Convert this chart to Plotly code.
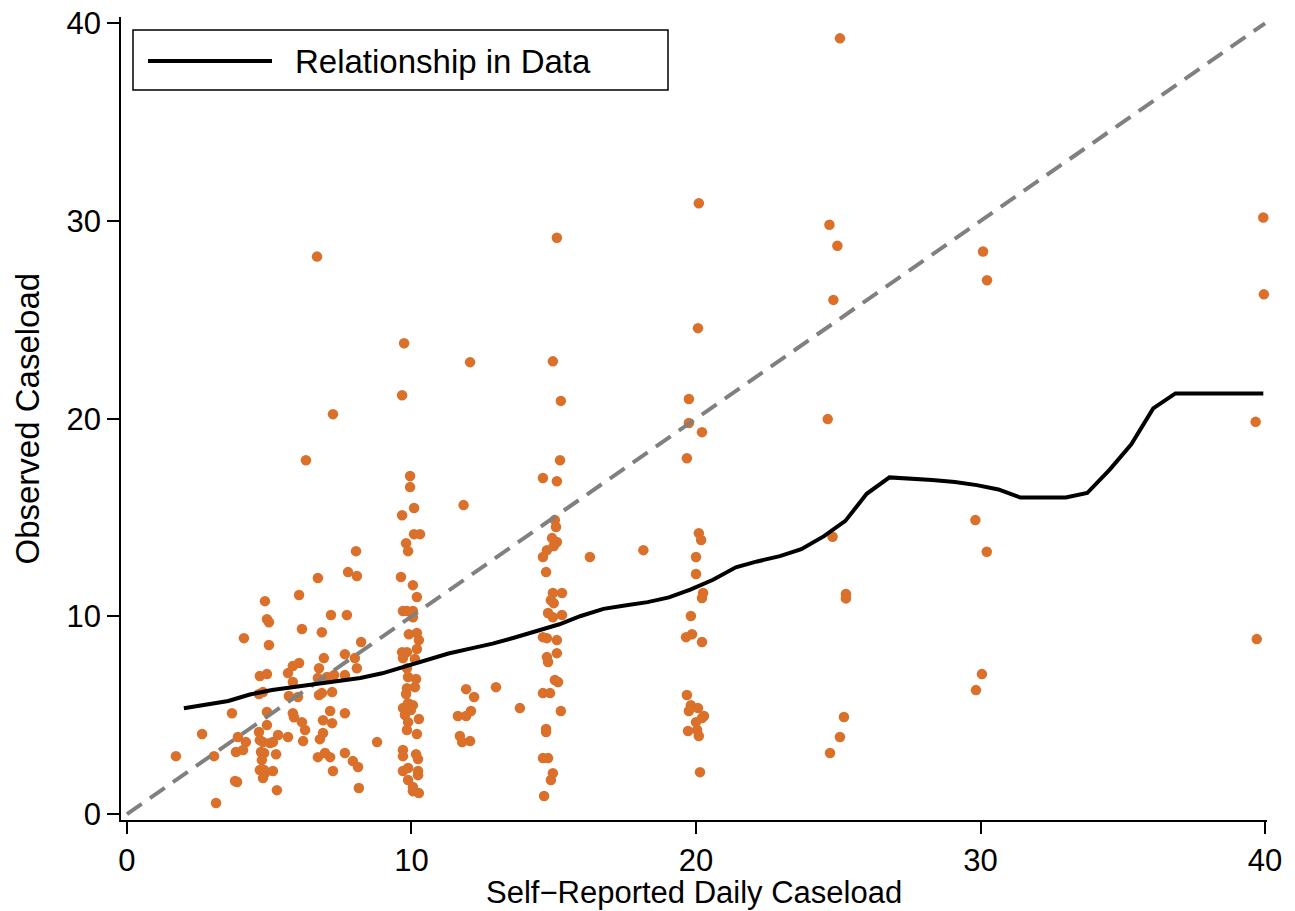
import plotly.graph_objects as go

# Scatter: self-reported daily caseload vs observed caseload
self_reported = [
    1.72, 2.64, 3.13, 3.06, 3.69, 4.11, 3.90, 3.83, 4.18, 4.08, 3.80, 3.87,
    4.67, 4.92, 4.85, 4.92, 4.99, 4.99, 4.64, 4.78, 4.92, 4.92, 4.64, 4.67,
    4.78, 5.03, 5.13, 5.31, 5.24, 4.71, 4.82, 4.74, 4.67, 4.82, 4.85, 5.13,
    4.78, 5.27, 5.66, 6.05, 6.15, 6.71, 6.85, 7.17, 7.77, 8.08, 8.05, 7.73,
    8.23, 5.66, 5.83, 6.05, 5.69, 5.83, 6.01, 5.83, 5.87, 6.15, 6.26, 6.19,
    6.75, 6.92, 6.71, 7.03, 7.28, 7.66, 7.66, 8.01, 8.08, 6.75, 6.85, 7.21,
    7.14, 7.66, 6.89, 7.21, 6.89, 6.78, 6.71, 6.96, 7.14, 7.24, 7.66, 7.94,
    8.12, 8.15, 8.79, 6.68, 7.24, 6.29,
    9.95, 9.95, 10.09, 9.67, 10.09, 10.30, 9.81, 9.88, 9.63, 10.05, 10.19,
    9.70, 9.84, 10.05, 10.05, 9.91, 10.19, 10.26, 10.19, 9.67, 9.84, 9.70,
    10.12, 9.84, 9.88, 10.16, 10.12, 9.84, 9.81, 9.88, 10.05, 9.70, 9.98,
    9.77, 9.88, 10.26, 9.84, 10.19, 9.70, 9.70, 10.16, 10.23, 9.70, 9.88,
    10.23, 10.23, 9.88, 10.05, 10.05, 10.26, 9.74, 9.67,
    11.83, 12.06, 11.92, 12.20, 11.63, 11.92, 12.09, 11.70, 11.78, 12.06,
    12.97, 13.81, 16.27, 18.15,
    15.11, 14.97, 15.25, 15.22, 14.62, 15.11, 15.04, 15.08, 14.94, 15.11,
    15.00, 14.76, 14.62, 14.73, 15.29, 14.97, 14.90, 15.00, 14.80, 14.97,
    15.29, 14.62, 14.76, 15.11, 14.76, 14.80, 15.11, 15.04, 15.15, 14.62,
    14.87, 15.25, 14.73, 14.73, 14.62, 14.80, 14.97, 14.90, 14.66,
    20.10, 20.07, 19.75, 19.75, 20.21, 19.68, 20.10, 20.18, 20.00, 20.00,
    20.25, 20.21, 19.82, 19.65, 19.86, 20.21, 19.68, 19.82, 20.07, 19.75,
    20.28, 20.21, 20.00, 19.72, 20.04, 20.10, 20.14,
    25.06, 24.69, 24.97, 24.83, 24.63, 24.80, 25.27, 25.27, 25.20, 25.06,
    24.71,
    30.09, 30.23, 29.82, 30.22, 30.05, 29.84,
    39.94, 39.96, 39.67, 39.71,
]
observed = [
    2.93, 4.05, 0.56, 2.93, 5.10, 8.90, 3.90, 3.14, 3.64, 3.24, 1.67, 1.62,
    6.98, 7.08, 10.77, 9.86, 9.70, 8.55, 6.07, 6.17, 5.16, 4.50, 4.15, 3.74,
    3.64, 3.59, 3.64, 4.00, 3.03, 3.14, 3.09, 2.73, 2.23, 2.23, 2.07, 2.18,
    1.82, 1.21, 3.90, 11.08, 9.36, 11.94, 9.20, 10.07, 12.24, 12.04, 13.30, 10.07,
    8.70, 7.13, 7.49, 7.64, 5.97, 6.68, 5.92, 5.10, 4.90, 4.65, 4.25, 3.69,
    7.38, 7.89, 6.88, 6.93, 7.03, 7.03, 8.09, 7.89, 7.38, 6.02, 6.12, 6.17,
    5.21, 5.10, 4.75, 4.60, 4.10, 3.79, 2.88, 3.09, 2.88, 2.18, 3.09, 2.68,
    2.38, 1.32, 3.64, 28.20, 20.23, 17.90,
    17.10, 16.54, 15.48, 15.12, 14.16, 14.16, 13.70, 13.30, 11.99, 11.58, 10.98,
    10.27, 10.27, 10.27, 9.96, 9.10, 9.16, 8.80, 8.35, 8.19, 8.19, 7.89,
    7.84, 7.38, 6.93, 6.83, 6.42, 6.37, 6.07, 5.61, 5.51, 5.36, 5.26,
    5.01, 4.65, 4.81, 4.25, 4.05, 3.24, 2.93, 3.03, 2.78, 2.18, 2.33,
    2.18, 1.97, 1.72, 1.37, 1.16, 1.06, 23.82, 21.19,
    15.63, 22.86, 6.32, 5.92, 4.96, 4.96, 5.21, 3.95, 3.64, 3.69,
    6.42, 5.36, 13.00, 13.35,
    29.15, 22.90, 20.90, 17.90, 17.00, 16.84, 14.87, 14.52, 13.96, 13.76,
    13.56, 13.35, 13.00, 12.24, 11.18, 11.18, 10.82, 10.67, 10.17, 9.96,
    10.07, 8.95, 8.90, 8.80, 7.94, 7.69, 8.14, 6.78, 6.68, 6.12,
    6.12, 5.21, 4.30, 4.15, 2.83, 2.83, 2.07, 1.72, 0.91,
    30.90, 24.58, 21.00, 19.78, 19.32, 18.00, 14.21, 13.86, 13.00, 12.14,
    11.18, 10.93, 10.02, 8.95, 9.10, 8.70, 6.02, 5.51, 5.36, 5.21,
    4.96, 4.86, 4.65, 4.20, 4.25, 3.95, 2.12,
    39.24, 29.81, 28.75, 26.01, 19.98, 14.03, 11.13, 10.91, 4.91, 3.90,
    3.09,
    28.46, 27.00, 14.87, 13.27, 7.08, 6.27,
    30.18, 26.29, 19.84, 8.85,
]

# Smoothed relationship in the data
fit_x = [
    2.00, 2.80, 3.56, 4.32, 5.10, 5.87, 6.65, 7.42, 8.20, 8.97,
    9.75, 10.50, 11.30, 12.10, 12.85, 13.60, 14.40, 15.20, 15.95, 16.75,
    17.50, 18.30, 19.05, 19.80, 20.60, 21.40, 22.15, 22.95, 23.70, 24.50,
    25.25, 26.00, 26.80, 27.55, 28.30, 29.10, 29.87, 30.63, 31.40, 32.20,
    33.00, 33.75, 34.55, 35.30, 36.07, 36.85, 37.60, 38.40, 39.15, 39.94,
]
fit_y = [
    5.35, 5.55, 5.72, 6.05, 6.28, 6.43, 6.58, 6.72, 6.88, 7.12,
    7.45, 7.80, 8.12, 8.38, 8.62, 8.92, 9.25, 9.60, 10.02, 10.38,
    10.55, 10.72, 10.96, 11.35, 11.85, 12.48, 12.78, 13.05, 13.40, 14.06,
    14.83, 16.20, 17.03, 16.98, 16.90, 16.80, 16.64, 16.42, 16.01, 16.01,
    16.01, 16.24, 17.44, 18.71, 20.52, 21.28, 21.28, 21.28, 21.28, 21.28,
]

# 45-degree reference line
diag = [0, 40]

ticks = [0, 10, 20, 30, 40]
orange = "rgb(218,112,42)"
font_family = "Liberation Sans, Arial, Helvetica, sans-serif"

fig = go.Figure()
fig.add_trace(go.Scatter(
    x=self_reported, y=observed, mode="markers",
    marker=dict(color=orange, size=10.5, line=dict(width=0)),
    cliponaxis=False, showlegend=False, hoverinfo="x+y",
))
fig.add_trace(go.Scatter(
    x=diag, y=diag, mode="lines",
    line=dict(color="rgb(128,128,128)", width=4, dash="18px,10px"),
    showlegend=False, hoverinfo="skip",
))
fig.add_trace(go.Scatter(
    x=fit_x, y=fit_y, mode="lines",
    line=dict(color="black", width=4),
    name="Relationship in Data", showlegend=False,
))

L, R, T, B = 121, 28, 17, 91
W, H = 1295, 911
pw, ph = W - L - R, H - T - B


def px(xp):
    return (xp - L) / pw


def py(yp):
    return (H - B - yp) / ph


axis_common = dict(
    showgrid=False, zeroline=False, showline=True, linecolor="black",
    linewidth=1.6, ticks="outside", ticklen=12, tickwidth=1.6,
    tickcolor="black", tickvals=ticks, ticktext=[str(t) for t in ticks],
    tickfont=dict(family=font_family, size=31, color="black"),
    mirror=False, automargin=False,
)

fig.update_layout(
    width=W, height=H,
    margin=dict(l=L, r=R, t=T, b=B, pad=0, autoexpand=False),
    paper_bgcolor="white", plot_bgcolor="white",
    xaxis=dict(range=[-0.21, 40.07], **axis_common),
    yaxis=dict(range=[-0.30, 40.32], **axis_common),
    showlegend=False,
    shapes=[
        dict(type="rect", xref="paper", yref="paper",
             x0=px(133), x1=px(668), y0=py(90), y1=py(30),
             line=dict(color="black", width=1.5), fillcolor="white",
             layer="above"),
        dict(type="line", xref="paper", yref="paper",
             x0=px(148), x1=px(272), y0=py(61), y1=py(61),
             line=dict(color="black", width=4), layer="above"),
    ],
    annotations=[
        dict(text="Relationship in Data", xref="paper", yref="paper",
             x=px(293), y=py(61), xanchor="left", yanchor="middle",
             showarrow=False, font=dict(family=font_family, size=33, color="black")),
        dict(text="Self\u2212Reported Daily Caseload", xref="paper", yref="paper",
             x=0.5, y=py(893), xanchor="center", yanchor="middle",
             showarrow=False, font=dict(family=font_family, size=31, color="black")),
        dict(text="Observed Caseload", xref="paper", yref="paper",
             x=px(27), y=0.5, xanchor="center", yanchor="middle", textangle=-90,
             showarrow=False, font=dict(family=font_family, size=33, color="black")),
    ],
)

fig.write_html("out.html")
